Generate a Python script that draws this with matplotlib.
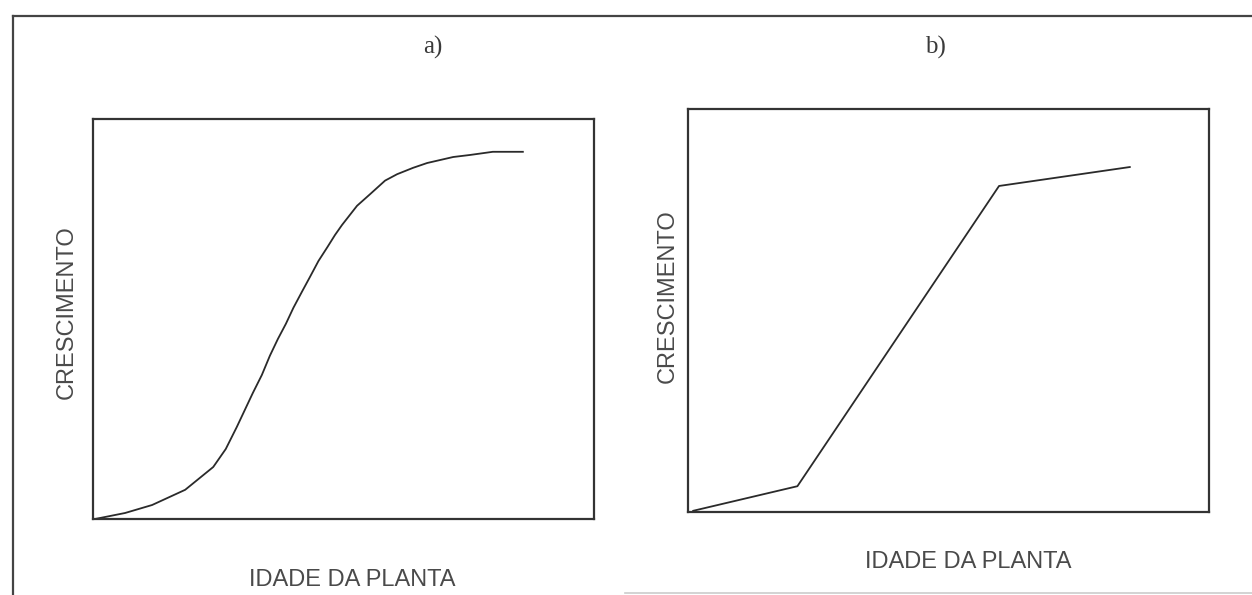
import matplotlib
matplotlib.use("Agg")
import matplotlib.pyplot as plt
from matplotlib.lines import Line2D

# Panel a: sigmoid growth curve (plant age vs. growth, relative units)
age_a = [0.4, 6.4, 11.8, 18.4, 24.0, 26.5, 28.7, 31.9, 33.7, 35.3, 36.9, 38.5,
         40.0, 41.7, 43.3, 45.0, 46.8, 48.3, 49.7, 52.7, 55.3, 58.3, 60.7,
         63.9, 66.7, 71.9, 75.2, 79.8, 85.8]
growth_a = [0.0, 1.5, 3.5, 7.3, 13.0, 17.5, 23.0, 31.5, 36.0, 40.8, 45.0, 48.8,
            52.8, 56.8, 60.5, 64.5, 68.0, 71.0, 73.5, 78.3, 81.2, 84.6, 86.2,
            87.8, 89.0, 90.5, 91.0, 91.8, 91.8]

# Panel b: piecewise-linear growth
age_b = [1.0, 21.0, 59.7, 84.8]
growth_b = [0.3, 6.4, 80.9, 85.6]

panel_titles = ["a)", "b)"]
x_label = "IDADE DA PLANTA"
y_label = "CRESCIMENTO"

W, H = 1252, 595
fig = plt.figure(figsize=(W / 100, H / 100), dpi=100)
fig.patch.set_facecolor("white")

def px_axes(x0, y0, x1, y1):
    return fig.add_axes([x0 / W, 1 - y1 / H, (x1 - x0) / W, (y1 - y0) / H])

ink = "#2a2a2a"
ax_a = px_axes(93, 119, 594, 519)
ax_b = px_axes(688, 109, 1209, 512)

for ax, xs, ys in ((ax_a, age_a, growth_a), (ax_b, age_b, growth_b)):
    ax.plot(xs, ys, color=ink, lw=1.3, solid_joinstyle="round")
    ax.set_xlim(0, 100)
    ax.set_ylim(0, 100)
    ax.set_xticks([])
    ax.set_yticks([])
    for sp in ax.spines.values():
        sp.set_color("#333333")
        sp.set_linewidth(1.6)

serif = ["Liberation Serif", "DejaVu Serif"]
sans = ["Liberation Sans", "DejaVu Sans"]
lab_col = "#4a4a4a"

fig.text(433 / W, 1 - 47 / H, panel_titles[0], ha="center", va="center",
         family=serif, fontsize=18, color="#3a3a3a")
fig.text(935 / W, 1 - 47 / H, panel_titles[1], ha="center", va="center",
         family=serif, fontsize=18, color="#3a3a3a")

fig.text(352 / W, 1 - 580 / H, x_label, ha="center", va="center",
         family=sans, fontsize=17, color=lab_col)
fig.text(968 / W, 1 - 562 / H, x_label, ha="center", va="center",
         family=sans, fontsize=17, color=lab_col)
fig.text(67 / W, 1 - 312 / H, y_label, ha="center", va="center", rotation=90,
         family=sans, fontsize=17, color=lab_col)
fig.text(668 / W, 1 - 296 / H, y_label, ha="center", va="center", rotation=90,
         family=sans, fontsize=17, color=lab_col)

# Outer frame around both panels
fig.add_artist(Line2D([13 / W, 13 / W], [0, 1 - 16 / H], transform=fig.transFigure,
                      color="#444444", lw=1.6))
fig.add_artist(Line2D([13 / W, 1], [1 - 16 / H, 1 - 16 / H], transform=fig.transFigure,
                      color="#444444", lw=1.6))
fig.add_artist(Line2D([625 / W, 1], [1 - 593 / H, 1 - 593 / H], transform=fig.transFigure,
                      color="#cccccc", lw=1.2))

fig.savefig("out.png", dpi=100)
